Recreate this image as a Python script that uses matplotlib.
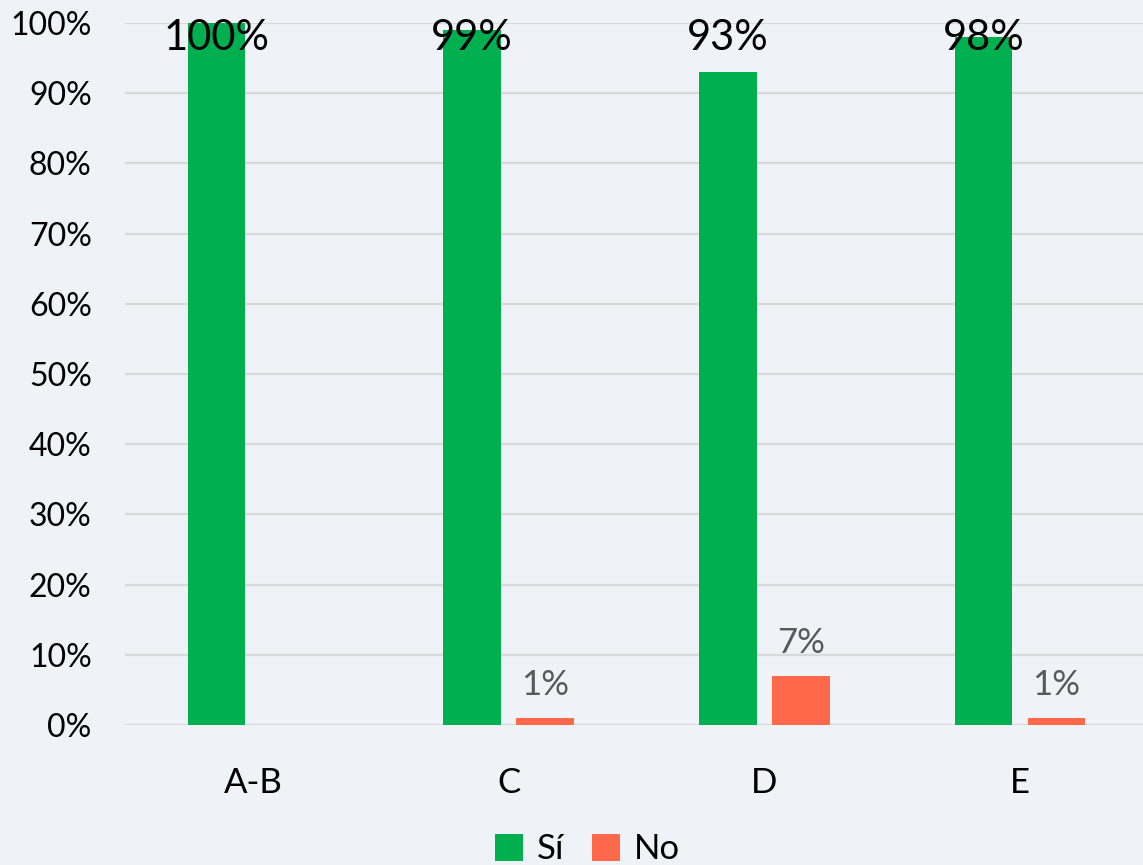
import matplotlib
matplotlib.use("Agg")
import matplotlib.pyplot as plt
import numpy as np

categories = ["A-B", "C", "D", "E"]
si_values = [100, 99, 93, 98]
no_values = [0, 1, 7, 1]
si_labels = ["100%", "99%", "93%", "98%"]
no_labels = ["", "1%", "7%", "1%"]
yticks = [0, 10, 20, 30, 40, 50, 60, 70, 80, 90, 100]
ytick_labels = [f"{t}%" for t in yticks]

plt.rcParams['font.family'] = ['Lato', 'DejaVu Sans']

BG = "#eff2f6"
GREEN = "#00b050"
ORANGE = "#ff684a"

fig = plt.figure(figsize=(11.43, 8.65), dpi=100, facecolor=BG)
ax = fig.add_axes([125 / 1143, 0.1618, 1023 / 1143, 0.8116], facecolor=BG)

x = np.arange(len(categories))
w = 0.225
off = 0.1425
b1 = ax.bar(x - off, si_values, w, color=GREEN, label="Sí", zorder=3)
b2 = ax.bar(x + off, no_values, w, color=ORANGE, label="No", zorder=3)

ax.set_xlim(-0.5, len(categories) - 0.5)
ax.set_ylim(0, 100)
ax.set_yticks(yticks)
ax.set_yticklabels(ytick_labels, fontsize=23, color="black")
ax.set_xticks(x)
ax.set_xticklabels(categories, fontsize=25, color="black")
ax.tick_params(axis="both", length=0)
ax.tick_params(axis="y", pad=24)
ax.tick_params(axis="x", pad=30)
for s in ax.spines.values():
    s.set_visible(False)
ax.yaxis.grid(True, color="#d9d9d9", linewidth=1.6, zorder=0)
ax.set_axisbelow(True)

for xi, v, lab in zip(x, si_values, si_labels):
    ypos = min(v + 6, 97.9)
    ax.text(xi - off, ypos, lab, ha="center", va="center", fontsize=30,
            color="black", zorder=5)

for xi, v, lab in zip(x, no_values, no_labels):
    if lab:
        ax.annotate(lab, (xi + off, v), xytext=(0, 12), textcoords="offset points",
                    ha="center", va="bottom", fontsize=25, color="#595959", zorder=5)

fig.legend(handles=[b1, b2], labels=["Sí", "No"], loc="center",
           bbox_to_anchor=(0.514, 0.018), ncol=2, frameon=False, fontsize=25,
           handlelength=0.8, handleheight=0.8, handletextpad=0.4, columnspacing=0.8)

fig.savefig("out.png", dpi=100, facecolor=BG)
